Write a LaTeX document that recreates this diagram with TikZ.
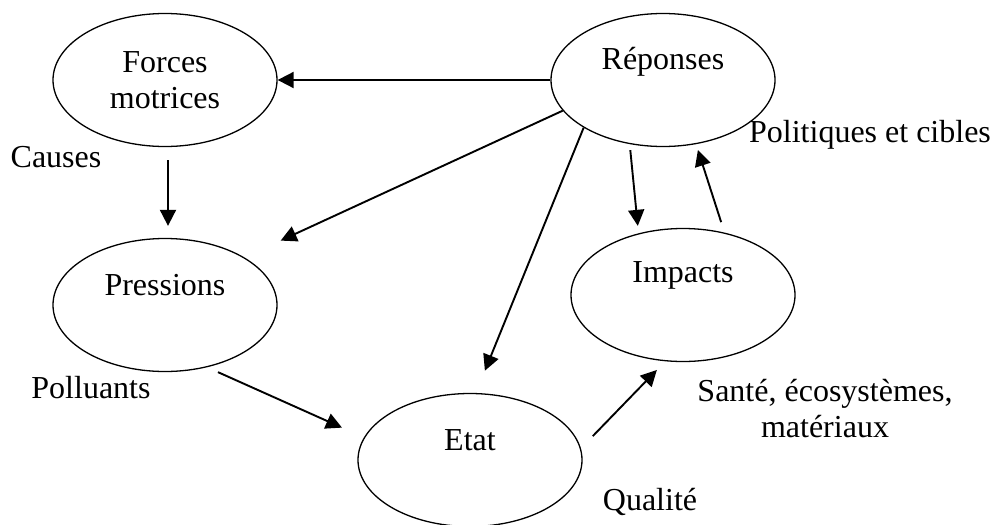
\documentclass[tikz,border=0pt]{standalone}
\usepackage{fontspec}
\setmainfont{Liberation Serif}
\usepackage{tikz}
\usetikzlibrary{positioning, shapes.geometric, arrows.meta}
\tikzstyle{fleche} = [line width=1.9pt,-{Triangle[length=16pt,width=16pt]}]

\begin{document}
\begin{tikzpicture}[
	x=1pt, y=-1pt,
	font=\fontsize{32}{36}\selectfont,
	etape/.style={draw, ellipse, line width=1.3pt, minimum width=224pt, minimum height=133pt, inner sep=0pt},
	texte/.style={inner sep=0pt, align=center}
	]
	\useasboundingbox (0,0) rectangle (994,525);
	
	\node[etape, align=center] (forc) at (165,80) {Forces\\motrices};
	\node[etape] (rep) at (663,80) {};
	\node[etape] (pres) at (165,305) {};
	\node[etape] (imp) at (683,295) {};
	\node[etape] (etat) at (470,460) {};
	
	\node[texte] (trep) at ([yshift=18pt]rep.center) {Réponses};
	\node[texte] (tpres) at ([yshift=20pt]pres.center) {Pressions};
	\node[texte] (timp) at ([yshift=20pt]imp.center) {Impacts};
	\node[texte] (tetat) at ([yshift=20pt]etat.center) {Etat};
	
	\node[texte] (causes) at (56,157) {Causes};
	\node[texte] (polit) at (870,135) {Politiques et cibles};
	\node[texte] (poll) at (91,388) {Polluants};
	\node[texte] (sante) at (825,409) {Santé, écosystèmes,\\matériaux};
	\node[texte] (qual) at (650,502) {Qualité};
	
	\draw[fleche] (rep.west) -- (forc.east);
	\draw[fleche, shorten <=13pt, shorten >=12pt] ([xshift=3pt]forc.south) -- ([xshift=3pt]pres.north);
	\draw[fleche, shorten >=40pt] (rep.197) -- (pres.31);
	\draw[fleche, shorten >=24pt] (rep.211) -- (etat.85);
	\draw[fleche, shorten <=3pt, shorten >=2pt] ([xshift=-33pt]rep.south) -- ([xshift=-45pt]imp.north);
	\draw[fleche, shorten <=6pt, shorten >=3pt] ([xshift=40pt]imp.north) -- ([xshift=34pt]rep.south);
	\draw[fleche, shorten >=24pt] ([xshift=53pt]pres.south) -- (etat.168);
	\draw[fleche, shorten <=17pt, shorten >=12pt] (etat.6) -- (imp.255);
\end{tikzpicture}
\end{document}
